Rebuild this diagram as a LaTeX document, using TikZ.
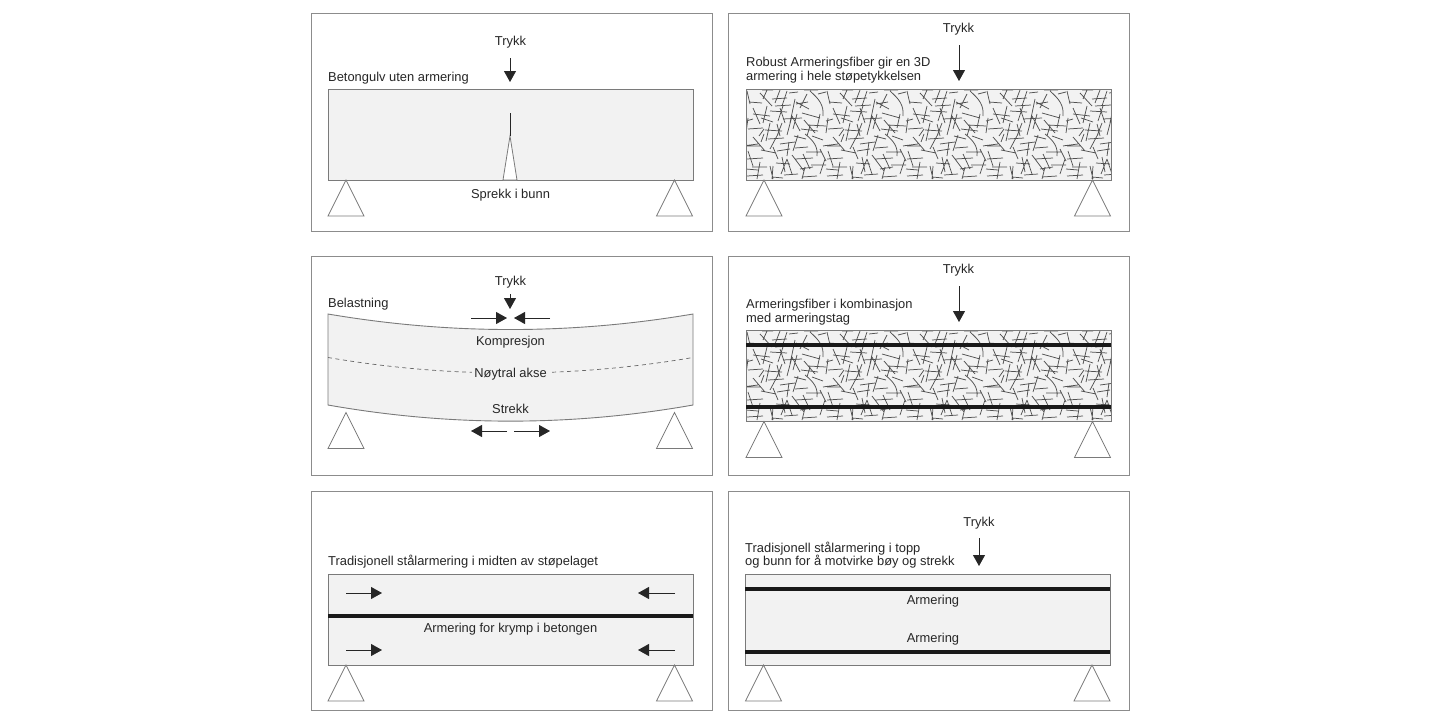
\documentclass[tikz,border=0pt]{standalone}
\usepackage{fontspec}
\setmainfont{Liberation Sans}
\usetikzlibrary{arrows.meta}
\definecolor{framegrey}{HTML}{8C8C8C}
\definecolor{beamfill}{HTML}{F2F2F2}
\definecolor{beamline}{HTML}{7A7A7A}
\definecolor{inkdark}{HTML}{262626}
\newcommand{\fibretile}{%
\draw[fibre]
(1,2)--(4,15) (3,13)--(16,14) (16,1)--(27,1) (21,1)--(17,10) (14,4)--(26,17)
(34,1)--(29,14) (26,10)--(41,9) (41,2)--(36,17) (43,4)--(52,3)
(49,10)--(44,34) (50,13)--(63,20) (61,5)--(54,19) (50,15)--(62,13)
(64,2) .. controls (73,10) and (78,16) .. (77,27)
(7,19)--(14,35) (7,25)--(24,27) (15,29)--(27,33) (21,17)--(17,34)
(2,29)--(0,44) (0,32)--(7,30) (2,40)--(17,39) (18,40)--(13,47)
(24,22)--(41,23) (34,19)--(39,34) (37,17)--(32,32) (37,30)--(56,29)
(51,25)--(47,40) (56,24)--(74,29) (31,35)--(34,47) (36,34)--(31,47)
(46,27)--(41,46) (46,27)--(54,42) (64,37)--(61,47) (62,36)--(80,37)
(74,25)--(71,39) (19,41)--(36,42)
(1,57)--(14,57) (7,48)--(19,62) (18,45)--(15,53) (32,45)--(24,60)
(27,58)--(32,70) (31,62)--(44,60) (43,53)--(41,67) (49,59)--(62,58)
(59,45) .. controls (68,52) and (72,58) .. (71,67)
(77,57)--(80,56.5) (0,56.5)--(12,55) (2,62)--(7,77) (1,70)--(17,69)
(14,73)--(11,90) (6,78)--(21,78) (1,87)--(17,86) (24,77)--(27,90)
(27,77)--(26,90) (26,88)--(37,89) (36,68)--(39,83) (41,70)--(35,85)
(41,70)--(46,85) (49,70)--(67,69) (57,65)--(64,80) (59,78)--(56,90)
(54,80)--(67,78) (56,88)--(71,87) (79,70)--(74,85) (65,76)--(80,76)
(48,47)--(60,50) (22,50)--(38,49) (66,47)--(77,51) (74,60)--(80,72)
% second layer
(58,1)--(72,1) (72,5)--(80,3) (29,17)--(45,16) (58,31)--(69,44)
(24,34)--(20,52) (55,40)--(72,42) (52,46)--(47,62)
(15,61)--(30,64) (34,55)--(49,53) (75,63)--(60,63)
(30,74)--(44,75) (46,66)--(58,82) (0,80)--(12,81) (38,86)--(52,85);
}
\newcommand{\fibrefield}[1]{%
\begin{scope}
\clip (746,#1) rectangle (1111,#1+91);
\foreach \tx in {0,80,160,240,320}{
\begin{scope}[shift={(746+\tx,#1)}]\fibretile\end{scope}
}
\end{scope}
}
\newcommand{\support}[2]{%
\draw[supportline] (#1,#2) -- (#1-18,#2+36) -- (#1+18,#2+36) -- cycle;
}
\tikzset{
  panel/.style={draw=framegrey,line width=1pt,fill=white},
  beam/.style={draw=beamline,line width=0.9pt,fill=beamfill},
  supportline/.style={draw=beamline,line width=0.8pt,fill=white},
  fibre/.style={draw=inkdark!80!white,line width=0.75pt},
  rebar/.style={draw=black!90,line width=4pt},
  force/.style={draw=inkdark,line width=0.9pt,-{Triangle[length=11pt,width=12pt]}},
  label/.style={font=\fontsize{12.9}{13.7}\selectfont,text=inkdark,inner sep=0pt},
  leftlabel/.style={label,anchor=west,align=left},
}
\begin{document}
\begin{tikzpicture}[x=1pt,y=-1pt]
\useasboundingbox (0,0) rectangle (1440,720);
\fill[white] (0,0) rectangle (1440,720);
% panels
\draw[panel] (311,13) rectangle (712,231);
\draw[panel] (728,13) rectangle (1129.5,231);
\draw[panel] (311,256) rectangle (712,475);
\draw[panel] (728,256) rectangle (1129.5,475);
\draw[panel] (311,491) rectangle (712,710);
\draw[panel] (728,491) rectangle (1129.5,710);

% panel 1
\draw[beam] (328,89) rectangle (693,180);
\draw[supportline,fill=white] (510,136) -- (503,180) -- (517,180) -- cycle;
\draw[draw=inkdark,line width=0.8pt] (510,113) -- (510,136);
\support{346}{180}\support{674.5}{180}
\node[label] (t1) at (510.5,42) {Trykk};
\draw[force] (510,58) -- (510,82);
\node[leftlabel] (c1) at (328,78) {Betongulv uten armering};
\node[label] (s1) at (510.5,195) {Sprekk i bunn};

% panel 2
\draw[beam] (746,89) rectangle (1111,180);
\fibrefield{89}
\draw[draw=beamline,line width=0.9pt] (746,89) rectangle (1111,180);
\support{764}{180}\support{1092.5}{180}
\node[label] (t2) at (958.5,29) {Trykk};
\draw[force] (959,45) -- (959,81);
\node[leftlabel] (c2) at (746,70) {Robust Armeringsfiber gir en 3D\\armering i hele støpetykkelsen};

% panel 3
\draw[beam] (328,314) .. controls (449.7,334.7) and (571.3,334.7) .. (693,314)
  -- (693,405) .. controls (571.3,426.5) and (449.7,426.5) .. (328,405) -- cycle;
\draw[draw=inkdark!70!white,line width=0.7pt,dashed,dash pattern=on 4pt off 3.5pt]
  (328,357.5) .. controls (449.7,378.2) and (571.3,378.2) .. (693,357.5);
\support{346}{412.5}\support{674.5}{412.5}
\node[label] (t3) at (510.5,282) {Trykk};
\draw[force] (510,294) -- (510,309);
\draw[force] (471,318) -- (507,318);
\draw[force] (550,318) -- (514,318);
\node[leftlabel] (c3) at (328,304) {Belastning};
\node[label] (k3) at (510.5,342.5) {Kompresjon};
\node[label,fill=beamfill,inner xsep=2.5pt,inner ysep=1pt] (n3) at (510.5,374) {Nøytral akse};
\node[label] (st3) at (510.5,409) {Strekk};
\draw[force] (507,431) -- (471,431);
\draw[force] (514,431) -- (550,431);

% panel 4
\draw[beam] (746,330) rectangle (1111,421);
\fibrefield{330}
\draw[draw=beamline,line width=0.9pt] (746,330) rectangle (1111,421);
\draw[rebar,line width=4.4pt] (746,345) -- (1111,345);
\draw[rebar,line width=4.4pt] (746,407) -- (1111,407);
\support{764}{421.5}\support{1092.5}{421.5}
\node[label] (t4) at (958.5,270) {Trykk};
\draw[force] (959,286) -- (959,322);
\node[leftlabel] (c4) at (746,312.5) {Armeringsfiber i kombinasjon\\med armeringstag};

% panel 5
\draw[beam] (328,574) rectangle (693,665);
\draw[rebar] (328,615.5) -- (693,615.5);
\support{346}{665}\support{674.5}{665}
\node[leftlabel] (c5) at (328,562) {Tradisjonell stålarmering i midten av støpelaget};
\node[label] (a5) at (510.5,629) {Armering for krymp i betongen};
\draw[force] (346,593) -- (382,593);
\draw[force] (346,650) -- (382,650);
\draw[force] (675,593) -- (638,593);
\draw[force] (675,650) -- (638,650);

% panel 6
\draw[beam] (745,574) rectangle (1110,665);
\draw[rebar] (745,589) -- (1110,589);
\draw[rebar] (745,651.5) -- (1110,651.5);
\support{763.5}{665}\support{1092}{665}
\node[label] (t6) at (979,523) {Trykk};
\draw[force] (979,538) -- (979,566);
\node[leftlabel] (c6) at (745,555) {Tradisjonell stålarmering i topp\\og bunn for å motvirke bøy og strekk};
\node[label] (a6) at (933,601) {Armering};
\node[label] (b6) at (933,639) {Armering};
\end{tikzpicture}
\end{document}
